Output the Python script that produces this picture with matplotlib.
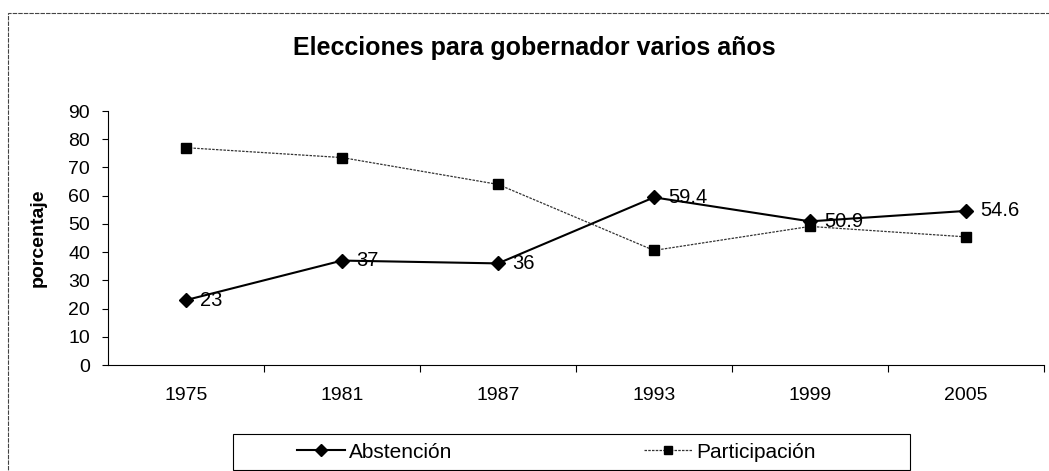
import matplotlib.pyplot as plt
from matplotlib.patches import Rectangle

# data
years = ['1975', '1981', '1987', '1993', '1999', '2005']
abstencion = [23, 37, 36, 59.4, 50.9, 54.6]
participacion = [77, 73.5, 64, 40.6, 49.1, 45.4]

plt.rcParams['font.family'] = ['Liberation Sans', 'DejaVu Sans']

W, H = 1049, 471
fig = plt.figure(figsize=(W / 100, H / 100), dpi=100)
ax = fig.add_axes([108 / W, 1 - 365 / H, 936 / W, 254 / H])

x = list(range(len(years)))
ax.plot(x, abstencion, color='black', lw=1.5, marker='D', ms=7,
        label='Abstención')
ax.plot(x, participacion, color='#333333', lw=0.9, ls=(0, (2, 1)),
        marker='s', ms=6.5, mfc='black', mec='black', label='Participación')

# data labels on the Abstención series
for xi, v in zip(x, abstencion):
    ax.annotate(f'{v:g}', (xi, v), xytext=(10, 0), textcoords='offset points',
                va='center', ha='left', fontsize=14.5)

ax.set_xlim(-0.5, len(years) - 0.5)
ax.set_ylim(0, 90)
ax.set_yticks(range(0, 91, 10))
ax.tick_params(axis='y', labelsize=14, length=4, pad=9)

# category boundaries get the tick marks, labels sit in the middle
ax.set_xticks([i + 0.5 for i in range(len(years))])
ax.set_xticklabels([])
ax.tick_params(axis='x', which='major', length=5, direction='out')
ax.set_xticks(x, minor=True)
ax.set_xticklabels(years, minor=True)
ax.tick_params(axis='x', which='minor', length=0, labelsize=14, pad=16)

for s in ['top', 'right']:
    ax.spines[s].set_visible(False)
ax.set_ylabel('porcentaje', fontsize=14, fontweight='bold')
ax.yaxis.set_label_coords(-(108 - 47) / 936, 0.5)

fig.text(0.5 + 10 / W, 1 - 55 / H, 'Elecciones para gobernador varios años',
         ha='center', va='baseline', fontsize=18, fontweight='bold')

# legend box drawn by hand, entries centred inside it
fig.patches.append(Rectangle((233 / W, 1 - 470 / H), 677 / W, 36 / H,
                             transform=fig.transFigure, fill=False,
                             edgecolor='black', lw=0.8))
fig.legend(loc='center', bbox_to_anchor=(556 / W, 1 - 452 / H), ncol=2,
           fontsize=15, frameon=False, borderaxespad=0, borderpad=0,
           handlelength=2.3, handletextpad=0.2, columnspacing=9.2,
           markerscale=0.85)

# outer chart border
fig.patches.append(Rectangle((8 / W, -0.01), 1.1, 1 - 13 / H + 0.01,
                             transform=fig.transFigure, fill=False,
                             edgecolor='#444444', lw=0.8, ls=(0, (4, 1))))

fig.savefig('out.png', dpi=100)
